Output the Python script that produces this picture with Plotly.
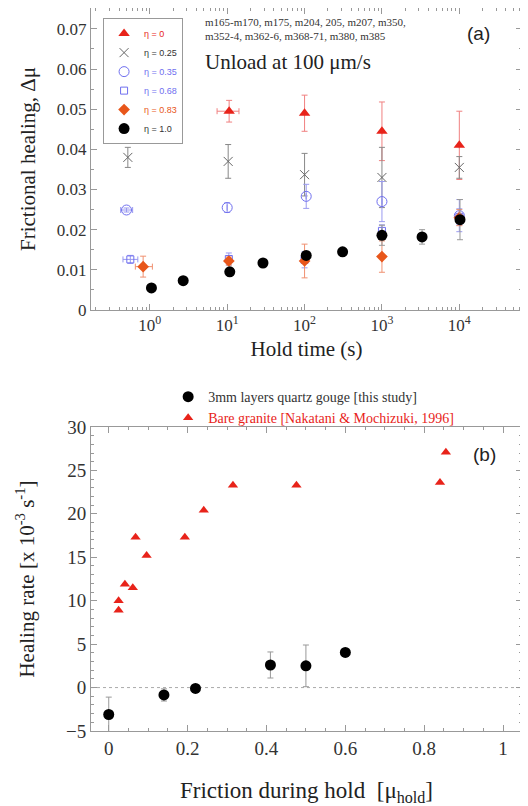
import plotly.graph_objects as go

# ---------------- Panel (a) data ----------------
tick_vals_a = [1, 10, 100, 1000, 10000]
tick_text_a = ["10<sup>0</sup>", "10<sup>1</sup>", "10<sup>2</sup>", "10<sup>3</sup>", "10<sup>4</sup>"]

eta0_t = [10.6, 100, 1000, 10000]
eta0_v = [0.0495, 0.049, 0.0445, 0.041]
eta0_e = [0.0027, 0.0045, 0.0073, 0.0085]
eta0_xp = [3.6, None, None, None]
eta0_xm = [3.2, None, None, None]

eta25_t = [0.52, 10.3, 100, 1000, 10000]
eta25_v = [0.038, 0.037, 0.0337, 0.033, 0.0355]
eta25_e = [0.0025, 0.0042, 0.0053, 0.0075, 0.0027]

eta35_t = [0.5, 10, 105, 1000, 10000]
eta35_v = [0.0249, 0.0255, 0.0283, 0.027, 0.0235]
eta35_e = [0.0005, 0.0012, 0.003, 0.005, 0.004]
eta35_xp = [0.1, None, None, None, None]
eta35_xm = [0.08, None, None, None, None]

eta68_t = [0.56, 10.5, 100, 1000, 10000]
eta68_v = [0.0126, 0.0127, 0.0125, 0.0197, 0.0232]
eta68_e = [0.001, 0.0015, 0.002, 0.0015, 0.002]
eta68_xp = [0.14, None, None, None, None]
eta68_xm = [0.11, None, None, None, None]

eta83_t = [0.82, 10.5, 100, 1000, 10000]
eta83_v = [0.0108, 0.0122, 0.0122, 0.0133, 0.023]
eta83_e = [0.0026, 0.001, 0.0042, 0.0039, 0.002]
eta83_xp = [0.26, None, None, None, None]
eta83_xm = [0.17, None, None, None, None]

eta1_t = [1.05, 2.7, 10.8, 29, 105, 310, 1000, 3300, 10200]
eta1_v = [0.0055, 0.0073, 0.0095, 0.0117, 0.0136, 0.0145, 0.0186, 0.0182, 0.0225]
eta1_e = [None, None, None, None, 0.001, None, 0.0025, 0.0018, 0.005]

# ---------------- Panel (b) data ----------------
gouge_mu = [0.0, 0.14, 0.22, 0.41, 0.5, 0.6]
gouge_rate = [-3.1, -0.85, -0.1, 2.6, 2.5, 4.05]
gouge_err = [2.0, 0.7, 0.3, 1.5, 2.4, 0.3]

granite_mu = [0.025, 0.025, 0.041, 0.061, 0.068, 0.096, 0.193, 0.241, 0.315, 0.476, 0.84, 0.855]
granite_rate = [8.9, 10.0, 11.9, 11.5, 17.3, 15.2, 17.3, 20.4, 23.3, 23.3, 23.6, 27.1]

RED = "#e8231a"
GRAY = "#666666"
BLUE = "#6f6fef"
ORANGE = "#e8561a"
SERIF = "Liberation Serif"
SANS = "Liberation Sans"

fig = go.Figure()


def err(arr, color):
    return dict(type="data", array=arr, symmetric=True, color=color, thickness=1, width=3)


def errx(plus, minus, color):
    return dict(type="data", array=plus, arrayminus=minus, symmetric=False,
                color=color, thickness=1, width=3)


def nm(text, color):
    return f"<span style='color:{color}'>{text}</span>"


fig.add_trace(go.Scatter(x=eta0_t, y=eta0_v, mode="markers", name=nm("η = 0", RED),
                         marker=dict(symbol="triangle-up", size=10, color=RED),
                         error_y=err(eta0_e, "#f08080"), error_x=errx(eta0_xp, eta0_xm, "#f08080"),
                         xaxis="x", yaxis="y", legend="legend"))
fig.add_trace(go.Scatter(x=eta25_t, y=eta25_v, mode="markers", name=nm("η = 0.25", "#333333"),
                         marker=dict(symbol="x-thin-open", size=9, color=GRAY, line=dict(width=1, color=GRAY)),
                         error_y=err(eta25_e, "#888888"),
                         xaxis="x", yaxis="y", legend="legend"))
fig.add_trace(go.Scatter(x=eta35_t, y=eta35_v, mode="markers", name=nm("η = 0.35", BLUE),
                         marker=dict(symbol="circle-open", size=10, color=BLUE, line=dict(width=1, color=BLUE)),
                         error_y=err(eta35_e, "#9a9af0"), error_x=errx(eta35_xp, eta35_xm, "#9a9af0"),
                         xaxis="x", yaxis="y", legend="legend"))
fig.add_trace(go.Scatter(x=eta68_t, y=eta68_v, mode="markers", name=nm("η = 0.68", BLUE),
                         marker=dict(symbol="square-open", size=7, color=BLUE, line=dict(width=1, color=BLUE)),
                         error_y=err(eta68_e, "#9a9af0"), error_x=errx(eta68_xp, eta68_xm, "#9a9af0"),
                         xaxis="x", yaxis="y", legend="legend"))
fig.add_trace(go.Scatter(x=eta83_t, y=eta83_v, mode="markers", name=nm("η = 0.83", ORANGE),
                         marker=dict(symbol="diamond", size=9, color=ORANGE),
                         error_y=err(eta83_e, "#f09070"), error_x=errx(eta83_xp, eta83_xm, "#f09070"),
                         xaxis="x", yaxis="y", legend="legend"))
fig.add_trace(go.Scatter(x=eta1_t, y=eta1_v, mode="markers", name=nm("η = 1.0", "#333333"),
                         marker=dict(symbol="circle", size=11, color="black"),
                         error_y=err(eta1_e, "#999999"),
                         xaxis="x", yaxis="y", legend="legend"))

fig.add_trace(go.Scatter(x=gouge_mu, y=gouge_rate, mode="markers",
                         name=nm("3mm layers quartz gouge [this study]", "#333333"),
                         marker=dict(symbol="circle", size=11, color="black"),
                         error_y=err(gouge_err, "#999999"),
                         xaxis="x2", yaxis="y2", legend="legend2"))
fig.add_trace(go.Scatter(x=granite_mu, y=granite_rate, mode="markers",
                         name=nm("Bare granite [Nakatani &amp; Mochizuki, 1996]", RED),
                         marker=dict(symbol="triangle-up", size=9, color=RED),
                         xaxis="x2", yaxis="y2", legend="legend2"))

axis_common = dict(showline=True, linecolor="#999999", linewidth=1, mirror="ticks",
                   ticks="inside", ticklen=6, tickcolor="#999999", showgrid=False, zeroline=False,
                   automargin=False)
MINOR = dict(ticks="inside", ticklen=3, tickcolor="#999999")

fig.update_layout(
    width=520, height=798,
    margin=dict(l=83, r=6, t=0, b=75),
    paper_bgcolor="white", plot_bgcolor="white",
    font=dict(family=SERIF, color="#222222"),
    xaxis=dict(type="log", range=[-0.76, 4.81], domain=[0, 1], anchor="y",
               tickmode="array", tickvals=tick_vals_a, ticktext=tick_text_a,
               minor=dict(dtick="D1", **MINOR),
               tickfont=dict(family=SERIF, size=17, color="#333333"),
               title=dict(text="Hold time (s)", font=dict(family=SERIF, size=21, color="#222222"), standoff=6),
               **axis_common),
    yaxis=dict(range=[0, 0.0752], domain=[0.5823, 1.0], anchor="x", dtick=0.01,
               minor=dict(dtick=0.005, **MINOR),
               tickfont=dict(family=SERIF, size=17, color="#333333"),
               title=dict(text="Frictional healing, Δμ", font=dict(family=SERIF, size=21, color="#222222"), standoff=15),
               **axis_common),
    xaxis2=dict(range=[-0.045, 1.048], domain=[0, 1], anchor="y2", dtick=0.2,
                minor=dict(dtick=0.05, **MINOR),
                tickfont=dict(family=SERIF, size=19, color="#333333"),
                title=dict(text="Friction during hold  [μ<sub>hold</sub>]", font=dict(family=SERIF, size=23, color="#222222"), standoff=30),
                **axis_common),
    yaxis2=dict(range=[-5, 30], domain=[0, 0.4205], anchor="x2", dtick=5,
                minor=dict(dtick=1, **MINOR),
                tickfont=dict(family=SERIF, size=19, color="#333333"),
                title=dict(text="Healing rate [x 10<sup>-3</sup> s<sup>-1</sup>]", font=dict(family=SERIF, size=21, color="#222222"), standoff=25),
                **axis_common),
    legend=dict(x=0.028, y=0.986, xanchor="left", yanchor="top", bordercolor="#999999", borderwidth=1,
                bgcolor="white", font=dict(family=SANS, size=9), tracegroupgap=0),
    legend2=dict(x=0.179, y=0.484, xanchor="left", yanchor="top", borderwidth=0,
                 bgcolor="rgba(0,0,0,0)", font=dict(family=SERIF, size=14), tracegroupgap=0),
    showlegend=True,
)

fig.add_shape(type="line", xref="x2 domain", yref="y2", x0=0, x1=1, y0=0, y1=0,
              line=dict(color="#aaaaaa", width=1, dash="dot"), layer="below")

fig.add_annotation(xref="x domain", yref="y domain", x=0.26, y=0.98, xanchor="left", yanchor="top",
                   text="m165-m170, m175, m204, 205, m207, m350,<br>m352-4, m362-6, m368-71, m380, m385",
                   showarrow=False, align="left", font=dict(family=SERIF, size=11, color="#333333"))
fig.add_annotation(xref="x domain", yref="y domain", x=0.26, y=0.821, xanchor="left", yanchor="middle",
                   text="Unload at 100 μm/s", showarrow=False,
                   font=dict(family=SERIF, size=21, color="#222222"))
fig.add_annotation(xref="x domain", yref="y domain", x=0.898, y=0.914, xanchor="center", yanchor="middle",
                   text="(a)", showarrow=False, font=dict(family=SANS, size=19, color="#222222"))
fig.add_annotation(xref="x2 domain", yref="y2 domain", x=0.914, y=0.908, xanchor="center", yanchor="middle",
                   text="(b)", showarrow=False, font=dict(family=SANS, size=19, color="#222222"))

fig.write_html("out.html")
